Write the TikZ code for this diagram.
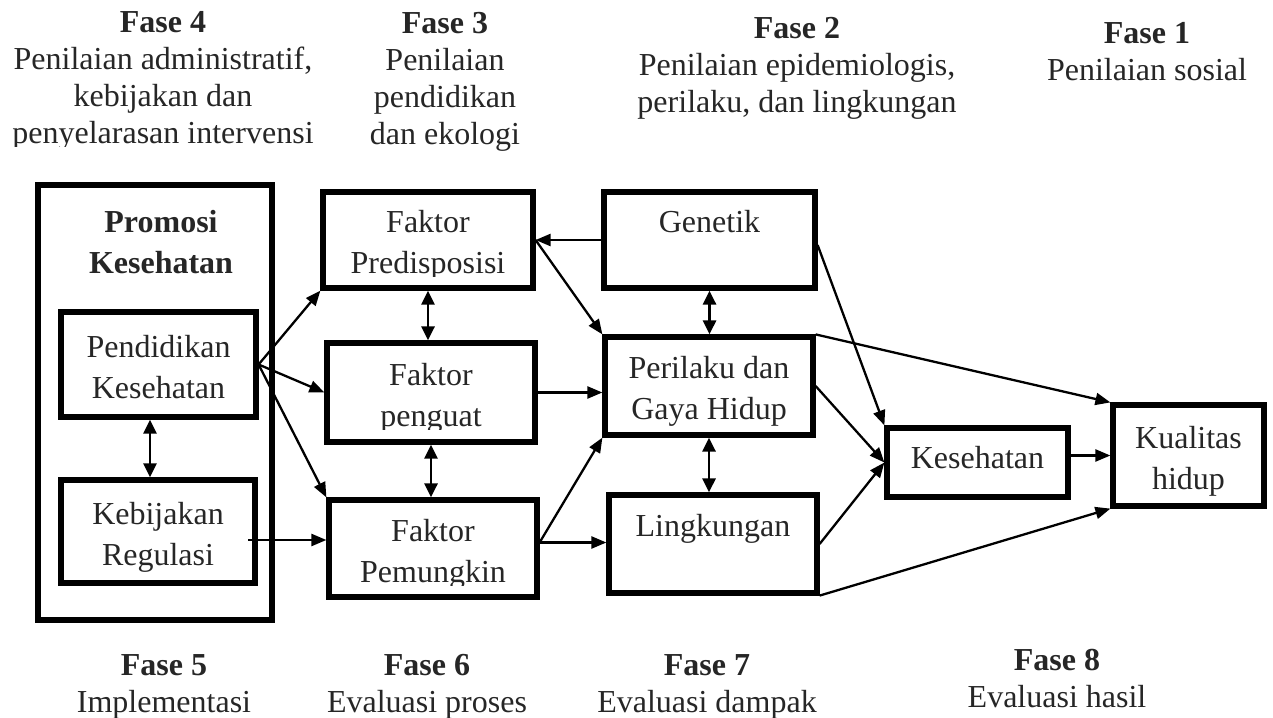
\documentclass[tikz,border=0pt]{standalone}
\usepackage{fontspec}
\setmainfont{Liberation Serif}
\usetikzlibrary{arrows.meta,calc}
\newcommand\bs{\rule[-7.5pt]{0pt}{41pt}}
\newcommand\hs{\rule[-8pt]{0pt}{37pt}}
\definecolor{txt}{gray}{0.15}
\begin{document}
\begin{tikzpicture}[x=1pt,y=-1pt,
  box/.style={draw, line width=5.2pt, inner sep=0pt, align=center, text=txt, font=\fontsize{32}{41}\selectfont},
  btext/.style={inner sep=0pt, align=center, text=txt, font=\fontsize{32}{41}\selectfont},
  lbl/.style={btext, anchor=north},
  head/.style={inner sep=0pt, align=center, anchor=north, text=txt, font=\fontsize{32}{37}\selectfont},
  arr/.style={line width=2.3pt, -{Triangle[length=15pt,width=12pt]}},
  biarr/.style={line width=2.8pt, {Triangle[length=14pt,width=13pt]}-{Triangle[length=14pt,width=13pt]}}]
\useasboundingbox (0,0) rectangle (1273,717);
% headings
\begin{scope}
\clip (0,0) rectangle (340,146);
\node[head] (f4) at (163,3) {\hs\textbf{Fase 4}\\\hs Penilaian administratif,\\\hs kebijakan dan\\\hs penyelarasan intervensi};
\end{scope}
\node[head] (f3) at (445,4) {\hs\textbf{Fase 3}\\\hs Penilaian\\\hs pendidikan\\\hs dan ekologi};
\node[head] (f2) at (797,9) {\hs\textbf{Fase 2}\\\hs Penilaian epidemiologis,\\\hs perilaku, dan lingkungan};
\node[head] (f1) at (1147,14) {\hs\textbf{Fase 1}\\\hs Penilaian sosial};
\node[head] (f5) at (164,646) {\hs\textbf{Fase 5}\\\hs Implementasi};
\node[head] (f6) at (427,646) {\hs\textbf{Fase 6}\\\hs Evaluasi proses};
\node[head] (f7) at (707,646) {\hs\textbf{Fase 7}\\\hs Evaluasi dampak};
\node[head] (f8) at (1057,641) {\hs\textbf{Fase 8}\\\hs Evaluasi hasil};
% boxes
\node[box, minimum width=234pt, minimum height=435pt] (promo) at (155,402.5) {};
\node[lbl] (promot) at (161,198.5) {\bs\textbf{Promosi}\\\bs\textbf{Kesehatan}};
\node[box, minimum width=195pt, minimum height=105pt] (pend) at (158.5,364.5) {\bs Pendidikan\\\bs Kesehatan};
\node[box, minimum width=194pt, minimum height=103pt] (keb) at (158,531.5) {\bs Kebijakan\\\bs Regulasi};
\node[box, minimum width=210pt, minimum height=96pt] (pred) at (428,240) {};
\node[box, minimum width=208pt, minimum height=99pt] (pen) at (431,392.5) {};
\node[box, minimum width=208pt, minimum height=97pt] (pem) at (433,548.5) {};
\begin{scope}
\clip (323,190) rectangle (533,276.5);
\node[btext] (predt) at (pred.center) {\bs Faktor\\\bs Predisposisi};
\end{scope}
\begin{scope}
\clip (327,343) rectangle (535,429);
\node[btext] (pent) at (pen.center) {\bs Faktor\\\bs penguat};
\end{scope}
\begin{scope}
\clip (329,500) rectangle (537,585);
\node[btext] (pemt) at (pem.center) {\bs Faktor\\\bs Pemungkin};
\end{scope}
\node[box, minimum width=211pt, minimum height=96pt] (gen) at (709.5,240) {\bs Genetik\\\bs};
\node[box, minimum width=208pt, minimum height=98pt] (per) at (709,386) {\bs Perilaku dan\\\bs Gaya Hidup};
\node[box, minimum width=208pt, minimum height=98pt] (ling) at (713,544) {\bs Lingkungan\\\bs};
\node[box, minimum width=181pt, minimum height=69pt, text height=24pt, text depth=13pt] (kes) at (977.5,462.5) {Kesehatan};
\node[box, minimum width=151pt, minimum height=101pt] (kual) at (1188.5,455.5) {\bs Kualitas\\\bs hidup};
% connectors
\coordinate (c1) at (150,0);
\coordinate (ks) at (248,540);
\coordinate (pme) at ($(pem.east)+(0,-6)$);
\coordinate (ge) at ($(gen.east)+(0,5)$);
\draw[arr] (pend.east) -- (pred.south west);
\draw[arr] (pend.east) -- (pen.west);
\draw[arr] (pend.east) -- (pem.north west);
\draw[biarr] (pend.south -| c1) -- (keb.north -| c1);
\draw[arr] (ks) -- (ks -| pem.west);
\draw[biarr] (pred.south) -- (pred.south |- pen.north);
\draw[biarr] (pen.south) -- (pen.south |- pem.north);
\draw[arr] (gen.west) -- (gen.west -| pred.east);
\draw[arr] (pred.east) -- (per.north west);
\draw[arr] (pen.east) -- (pen.east -| per.west);
\draw[arr] (pme) -- (per.south west);
\draw[arr] (pme) -- (pme -| ling.west);
\draw[biarr] (gen.south) -- (gen.south |- per.north);
\draw[biarr] (per.south) -- (per.south |- ling.north);
\draw[arr] (ge) -- (kes.north west);
\draw[arr] (per.north east) -- (kual.north west);
\draw[arr] (per.east) -- (kes.west);
\draw[arr] (ling.east) -- (kes.west);
\draw[arr] (ling.south east) -- (kual.south west);
\draw[arr] (kual.west -| kes.east) -- (kual.west);
\end{tikzpicture}
\end{document}
